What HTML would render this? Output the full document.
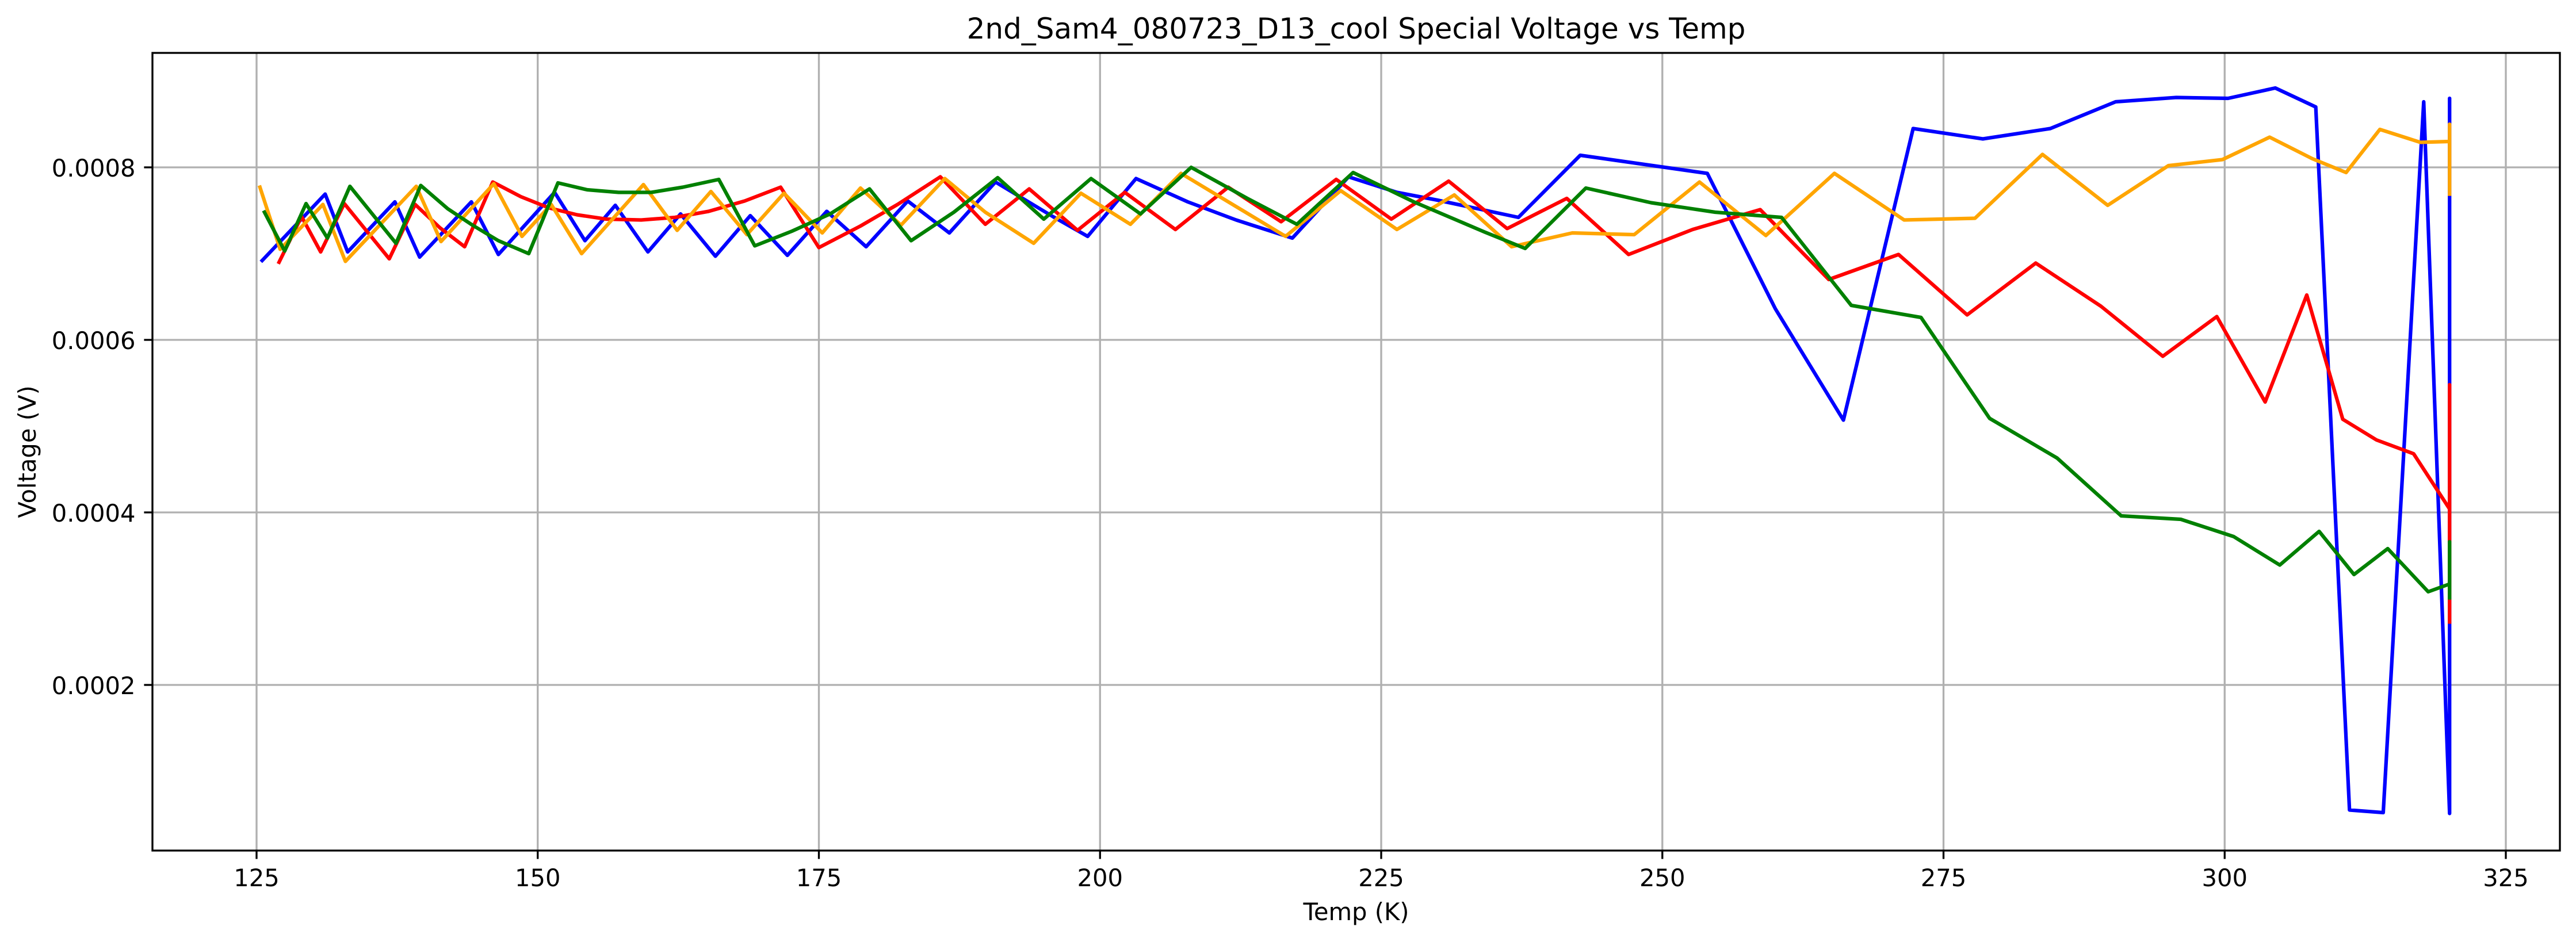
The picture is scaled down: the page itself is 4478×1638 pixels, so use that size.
<!DOCTYPE html>
<html lang="en">
<head>
<meta charset="utf-8">
<title>2nd_Sam4_080723_D13_cool Special Voltage vs Temp</title>
<style>
html,body{margin:0;padding:0;background:#fff;}
svg{display:block;}
text{font-family:"DejaVu Sans","Liberation Sans",sans-serif;fill:#000;}
</style>
</head>
<body>
<svg id="chart" xmlns="http://www.w3.org/2000/svg" width="4478" height="1638" viewBox="0 0 4478 1638">
  <rect x="0" y="0" width="4478" height="1638" fill="#ffffff"/>
  <g id="grid"></g>
  <g id="series"></g>
  <g id="ticks"></g>
  <rect x="265" y="92" width="4185" height="1387" fill="none" stroke="#000" stroke-width="3.33" stroke-linejoin="miter"/>
  <text x="2357.5" y="67" font-size="50" text-anchor="middle">2nd_Sam4_080723_D13_cool Special Voltage vs Temp</text>
  <text x="2357.5" y="1600" font-size="41.67" text-anchor="middle">Temp (K)</text>
  <text x="0" y="0" font-size="41.67" text-anchor="middle" transform="translate(62 785.5) rotate(-90)">Voltage (V)</text>
</svg>
<script>
const xTicks = [125, 150, 175, 200, 225, 250, 275, 300, 325];
const yTicks = [0.0002, 0.0004, 0.0006, 0.0008];
const yTickLabels = ["0.0002", "0.0004", "0.0006", "0.0008"];

const tempBlue = [125.5,131.1,133.1,137.3,139.5,144.1,146.5,151.5,154.2,156.9,159.8,162.7,165.8,168.9,172.2,175.7,179.2,182.9,186.6,190.7,195.8,198.9,203.2,207.8,212.1,217.1,222.1,226.4,230,237.2,242.7,254,260.05,266.1,272.3,278.5,284.5,290.3,295.7,300.3,304.5,308.1,311.1,314.1,317.7,320,320,320];
const voltBlue = [0.000692,0.000769,0.000702,0.000760,0.000696,0.000760,0.000699,0.000771,0.000715,0.000756,0.000702,0.000746,0.000697,0.000744,0.000698,0.000749,0.000708,0.000761,0.000724,0.000783,0.000743,0.000720,0.000787,0.000760,0.000739,0.000718,0.000789,0.000771,0.000762,0.000742,0.000814,0.000793,0.000636,0.000507,0.000845,0.000833,0.000845,0.000876,0.000881,0.000880,0.000892,0.000870,0.000055,0.000052,0.000876,0.000051,0.000880,0.000768];

const tempRed = [127,129,130.7,132.8,136.8,139.1,141.3,143.5,146,148.5,151,153.5,156.1,159.2,162.2,165.2,168.4,171.6,175,178.7,182,185.8,189.8,193.7,198,202.2,206.7,211.4,216.1,221,225.9,231,236.2,241.5,247,252.7,258.7,264.8,271,277.1,283.2,289,294.5,299.3,303.6,307.3,310.5,313.5,316.8,320,320,320];
const voltRed = [0.000690,0.000743,0.000702,0.000758,0.000694,0.000757,0.000730,0.000708,0.000783,0.000766,0.000753,0.000745,0.000740,0.000739,0.000742,0.000749,0.000761,0.000777,0.000707,0.000732,0.000757,0.000789,0.000734,0.000775,0.000727,0.000771,0.000728,0.000777,0.000737,0.000786,0.000740,0.000784,0.000729,0.000764,0.000699,0.000728,0.000751,0.000670,0.000699,0.000629,0.000689,0.000639,0.000581,0.000627,0.000528,0.000652,0.000508,0.000484,0.000468,0.000404,0.000548,0.000273];

const tempOrange = [125.3,127.1,130.9,132.9,139.2,141.4,146.1,148.6,151.2,153.9,159.4,162.4,165.4,168.6,171.9,175.3,178.7,182.3,186.2,189.8,194.1,198.3,202.7,207.2,216.5,221.4,226.4,231.5,236.6,242,247.5,253.3,259.2,265.3,271.5,277.8,283.8,289.6,295,299.8,304,307.8,310.8,313.8,317.4,320,320,320];
const voltOrange = [0.000777,0.000705,0.000757,0.000691,0.000778,0.000714,0.000781,0.000720,0.000757,0.000700,0.000780,0.000727,0.000772,0.000722,0.000770,0.000724,0.000776,0.000733,0.000787,0.000748,0.000712,0.000770,0.000734,0.000793,0.000720,0.000773,0.000728,0.000768,0.000708,0.000724,0.000722,0.000783,0.000721,0.000793,0.000739,0.000741,0.000815,0.000756,0.000802,0.000809,0.000835,0.000810,0.000794,0.000844,0.000829,0.000830,0.000850,0.000769];

const tempGreen = [125.7,127.5,129.4,131.3,133.3,137.4,139.6,142,144.2,146.5,149.2,151.8,154.4,157.2,160.1,162.9,166.1,169.3,172.6,176,179.5,183.2,187,190.9,195,199.2,203.6,208.1,213.1,217.5,222.5,227.9,234.2,237.8,243.2,249,254.7,260.6,266.8,273,279.1,285.1,290.8,296.1,300.8,304.9,308.4,311.5,314.5,318.1,320,320,320];
const voltGreen = [0.000748,0.000703,0.000758,0.000718,0.000778,0.000712,0.000779,0.000752,0.000733,0.000715,0.000700,0.000782,0.000774,0.000771,0.000771,0.000777,0.000786,0.000709,0.000726,0.000746,0.000775,0.000715,0.000748,0.000788,0.000740,0.000787,0.000746,0.000800,0.000764,0.000734,0.000794,0.000760,0.000725,0.000706,0.000776,0.000759,0.000748,0.000742,0.000640,0.000626,0.000509,0.000463,0.000396,0.000392,0.000372,0.000339,0.000378,0.000328,0.000358,0.000308,0.000317,0.000366,0.000301];

const NS = "http://www.w3.org/2000/svg";
const plotLeft = 265, plotRight = 4450, plotTop = 92, plotBottom = 1479;

function xScale(t) { return 446 + (t - 125) * 19.55; }
function yScale(v) { return 291 + (0.0008 - v) * 1500000; }

const gridLayer = document.getElementById("grid");
const tickLayer = document.getElementById("ticks");
const seriesLayer = document.getElementById("series");

function makeLine(x1, y1, x2, y2, stroke) {
  const l = document.createElementNS(NS, "line");
  l.setAttribute("x1", x1);
  l.setAttribute("y1", y1);
  l.setAttribute("x2", x2);
  l.setAttribute("y2", y2);
  l.setAttribute("stroke", stroke);
  l.setAttribute("stroke-width", "3.33");
  return l;
}

xTicks.forEach(function (t) {
  const x = xScale(t);
  const g = makeLine(x, plotTop, x, plotBottom, "#b0b0b0");
  
  
  gridLayer.appendChild(g);
  const m = makeLine(x, plotBottom, x, plotBottom + 14.6, "#000");
  
  
  tickLayer.appendChild(m);
  const s = document.createElementNS(NS, "text");
  
  
  s.setAttribute("x", x);
  s.setAttribute("y", 1541);
  s.setAttribute("font-size", "41.67");
  s.setAttribute("text-anchor", "middle");
  s.textContent = String(t);
  tickLayer.appendChild(s);
});

yTicks.forEach(function (v, i) {
  const y = yScale(v);
  const g = makeLine(plotLeft, y, plotRight, y, "#b0b0b0");
  
  
  gridLayer.appendChild(g);
  const m = makeLine(plotLeft - 14.6, y, plotLeft, y, "#000");
  
  
  tickLayer.appendChild(m);
  const s = document.createElementNS(NS, "text");
  
  
  s.setAttribute("x", 235.5);
  s.setAttribute("y", y + 16);
  s.setAttribute("font-size", "41.67");
  s.setAttribute("text-anchor", "end");
  s.textContent = yTickLabels[i];
  tickLayer.appendChild(s);
});

function drawSeries(temps, volts, color, name) {
  const p = document.createElementNS(NS, "path");
  let d = "";
  for (let i = 0; i < temps.length; i++) {
    d += (i === 0 ? "M" : "L") + xScale(temps[i]).toFixed(2) + " " + yScale(volts[i]).toFixed(2);
  }
  p.setAttribute("d", d);
  p.setAttribute("fill", "none");
  p.setAttribute("stroke", color);
  p.setAttribute("stroke-width", "6.25");
  p.setAttribute("stroke-linejoin", "round");
  p.setAttribute("stroke-linecap", "square");
  
  
  seriesLayer.appendChild(p);
}

drawSeries(tempBlue, voltBlue, "#0000ff", "series-blue-line");
drawSeries(tempRed, voltRed, "#ff0000", "series-red-line");
drawSeries(tempOrange, voltOrange, "#ffa500", "series-orange-line");
drawSeries(tempGreen, voltGreen, "#008000", "series-green-line");
</script>
</body>
</html>
